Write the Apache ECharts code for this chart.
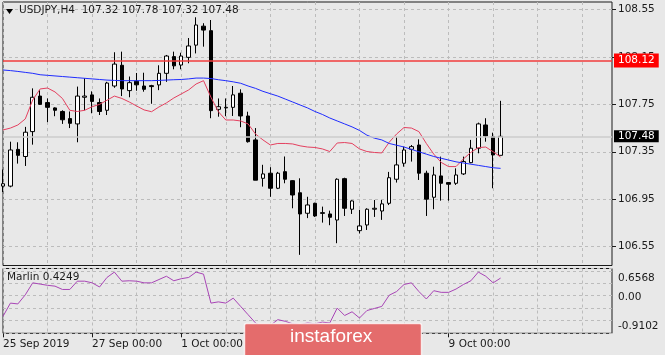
<!DOCTYPE html>
<html>
<head>
<meta charset="utf-8">
<script src="https://cdn.jsdelivr.net/npm/echarts@6/dist/echarts.min.js"></script>
<style>
  html, body { margin: 0; padding: 0; background: #e8e8e8; }
  #chart { width: 665px; height: 355px; }
</style>
</head>
<body>
<div id="chart"></div>
<script>
// USDJPY H4 bars
const symbolName = 'USDJPY,H4'
const indicatorName = 'Marlin'
const tickLabels = ['25 Sep 2019', '27 Sep 00:00', '1 Oct 00:00', '3 Oct 00:00', '7 Oct 00:00', '9 Oct 00:00']

const opens = [107.06, 107.06, 107.37, 107.31, 107.52, 107.82, 107.765, 107.72, 107.69, 107.63,
  107.585, 107.81, 107.83, 107.765, 107.70, 107.905, 108.08, 107.866, 107.945, 107.905,
  107.908, 107.914, 108.012, 108.153, 108.082, 108.147, 108.25, 108.41, 108.372, 107.708,
  107.72, 107.725, 107.844, 107.652, 107.45, 107.126, 107.169, 107.042, 107.182, 107.106,
  107.004, 106.831, 106.915, 106.836, 106.825, 106.774, 107.123, 106.865, 106.684, 106.732,
  106.865, 106.85, 106.915, 107.118, 107.253, 107.371, 107.407, 107.169, 106.966, 107.146,
  107.09, 107.084, 107.163, 107.258, 107.38, 107.576, 107.477, 107.32]
const closes = [107.08, 107.365, 107.32, 107.515, 107.81, 107.75, 107.725, 107.70, 107.62, 107.59,
  107.82, 107.82, 107.775, 107.69, 107.93, 108.09, 107.88, 107.933, 107.915, 107.877,
  107.90, 108.012, 108.158, 108.075, 108.158, 108.243, 108.42, 108.377, 107.697, 107.73,
  107.725, 107.83, 107.652, 107.435, 107.11, 107.163, 107.042, 107.169, 107.118, 106.985,
  106.825, 106.901, 106.808, 106.83, 106.797, 107.118, 106.873, 106.935, 106.724, 106.865,
  106.873, 106.91, 107.131, 107.239, 107.365, 107.393, 107.169, 106.95, 107.154, 107.084,
  107.076, 107.154, 107.267, 107.38, 107.585, 107.483, 107.323, 107.48]
const lows = [107.01, 107.05, 107.25, 107.23, 107.41, 107.745, 107.60, 107.65, 107.585, 107.55,
  107.43, 107.70, 107.675, 107.66, 107.66, 107.89, 107.82, 107.81, 107.865, 107.857,
  107.755, 107.87, 107.94, 108.046, 108.046, 108.097, 108.18, 108.237, 107.633, 107.646,
  107.65, 107.652, 107.557, 107.427, 107.11, 107.056, 106.97, 107.035, 107.084, 106.873,
  106.48, 106.79, 106.80, 106.752, 106.73, 106.578, 106.808, 106.825, 106.66, 106.69,
  106.80, 106.775, 106.90, 107.09, 107.224, 107.267, 107.112, 106.808, 106.865, 106.937,
  106.937, 107.07, 107.154, 107.253, 107.337, 107.435, 107.042, 107.32]
const highs = [107.20, 107.435, 107.43, 107.56, 107.885, 107.87, 107.80, 107.725, 107.70, 107.69,
  107.90, 107.97, 107.86, 107.80, 107.94, 108.19, 108.195, 107.985, 108.015, 108.017,
  107.915, 108.08, 108.167, 108.195, 108.186, 108.31, 108.485, 108.435, 108.462, 107.80,
  107.80, 107.905, 107.877, 107.688, 107.55, 107.24, 107.22, 107.18, 107.31, 107.11,
  107.126, 106.97, 106.92, 106.887, 106.853, 107.126, 107.131, 106.94, 106.86, 106.873,
  106.943, 106.943, 107.18, 107.477, 107.393, 107.407, 107.455, 107.19, 107.224, 107.309,
  107.093, 107.21, 107.309, 107.45, 107.596, 107.633, 107.511, 107.78]

// short moving average (red) and long one (blue)
const redMa = [107.534, 107.55, 107.576, 107.627, 107.787, 107.88, 107.888, 107.855, 107.80, 107.70,
  107.69, 107.70, 107.73, 107.75, 107.785, 107.82, 107.80, 107.77, 107.736, 107.703,
  107.688, 107.728, 107.762, 107.804, 107.838, 107.872, 107.922, 107.95, 107.81, 107.688,
  107.618, 107.618, 107.61, 107.585, 107.50, 107.45, 107.407, 107.42, 107.42, 107.416,
  107.40, 107.39, 107.386, 107.374, 107.352, 107.424, 107.428, 107.42, 107.374, 107.352,
  107.344, 107.34, 107.43, 107.50, 107.555, 107.55, 107.52, 107.42, 107.33, 107.26,
  107.225, 107.225, 107.29, 107.345, 107.385, 107.39, 107.35, 107.305]
const blueMa = [108.04, 108.035, 108.028, 108.02, 108.012, 108.0, 107.995, 107.99, 107.985, 107.98,
  107.975, 107.97, 107.965, 107.96, 107.955, 107.952, 107.95, 107.95, 107.95, 107.95,
  107.95, 107.952, 107.955, 107.958, 107.96, 107.965, 107.972, 107.972, 107.968, 107.958,
  107.95, 107.94, 107.928, 107.905, 107.885, 107.86, 107.84, 107.82, 107.795, 107.77,
  107.745, 107.72, 107.69, 107.665, 107.635, 107.61, 107.585, 107.56, 107.53, 107.49,
  107.465, 107.45, 107.42, 107.405, 107.39, 107.37, 107.35, 107.33, 107.31, 107.295,
  107.28, 107.265, 107.255, 107.245, 107.235, 107.225, 107.215, 107.21]

const marlin = [-0.50, -0.18, -0.20, 0.02, 0.31, 0.28, 0.25, 0.23, 0.15, 0.15,
  0.35, 0.35, 0.31, 0.21, 0.44, 0.57, 0.35, 0.36, 0.35, 0.31,
  0.31, 0.39, 0.47, 0.36, 0.41, 0.44, 0.57, 0.52, -0.18, -0.15,
  -0.18, -0.06, -0.26, -0.46, -0.66, -0.76, -0.72, -0.58, -0.62, -0.68,
  -0.70, -0.66, -0.68, -0.64, -0.66, -0.30, -0.48, -0.39, -0.54, -0.36,
  -0.31, -0.26, 0.01, 0.10, 0.27, 0.31, 0.10, -0.08, 0.12, 0.08,
  0.08, 0.16, 0.27, 0.36, 0.57, 0.47, 0.31, 0.4249]

const levelPrice = 108.12
const priceTicks = [106.55, 106.95, 107.35, 107.75, 108.15, 108.55]
const marlinTicks = [-0.9102, 0, 0.6568]

const SLOTS = 83   // bars visible in the window incl. empty space on the right
const categories = Array.from({ length: SLOTS }, (_, i) => String(i))
const last = opens.length - 1
const font = 'DejaVu Sans'

const chart = echarts.init(document.getElementById('chart'))

const dash = { color: '#bcbcbc', type: [3, 3], width: 1 }
const every6 = (i) => i % 6 === 0
const labelAt = (i) => i % 12 === 0 && i / 12 < tickLabels.length

const option = {
  animation: false,
  backgroundColor: '#e8e8e8',
  textStyle: { fontFamily: font },
  grid: [
    { left: 3, top: 2, width: 609, height: 263.5, show: true, borderColor: '#1a1a1a', borderWidth: 1, backgroundColor: 'transparent' },
    { left: 3, top: 268.5, width: 609, height: 64.8, show: true, borderColor: '#1a1a1a', borderWidth: 1, backgroundColor: 'transparent' }
  ],
  xAxis: [
    {
      type: 'category', gridIndex: 0, data: categories, boundaryGap: false,
      axisLine: { show: false, onZero: false }, axisTick: { show: false }, axisLabel: { show: false },
      splitLine: { show: true, interval: every6, lineStyle: dash }
    },
    {
      type: 'category', gridIndex: 1, data: categories, boundaryGap: false, position: 'bottom',
      axisLine: { show: false, onZero: false },
      axisTick: { show: true, interval: labelAt, length: 4, lineStyle: { color: '#1a1a1a' } },
      axisLabel: {
        show: true, interval: labelAt, align: 'left', margin: 5,
        color: '#1a1a1a', fontSize: 10.5, fontFamily: font,
        formatter: (v, i) => tickLabels[i / 12] || ''
      },
      splitLine: { show: true, interval: every6, lineStyle: dash }
    }
  ],
  yAxis: [
    {
      type: 'value', gridIndex: 0, position: 'right', min: 106.39, max: 108.614, scale: true,
      axisLine: { show: false },
      axisTick: { show: true, customValues: priceTicks, length: 4, lineStyle: { color: '#1a1a1a' } },
      axisLabel: {
        customValues: priceTicks, margin: 6, color: '#1a1a1a', fontSize: 10.5, fontFamily: font,
        formatter: (v) => v.toFixed(2)
      },
      splitLine: { show: true, lineStyle: dash }
    },
    {
      type: 'value', gridIndex: 1, position: 'right', min: marlinTicks[0], max: marlinTicks[2],
      axisLine: { show: false },
      axisTick: { show: false },
      axisLabel: {
        customValues: marlinTicks, margin: 6, color: '#1a1a1a', fontSize: 10.5, fontFamily: font,
        formatter: (v) => {
          if (v > 0.1) return '{t|' + v.toFixed(4) + '}'
          if (v < -0.1) return '{b|' + v.toFixed(4) + '}'
          return '{m|0.00}'
        },
        rich: {
          t: { padding: [19, 0, 0, 0], fontSize: 10.5, fontFamily: font, color: '#1a1a1a' },
          m: { padding: [4, 0, 0, 0], fontSize: 10.5, fontFamily: font, color: '#1a1a1a' },
          b: { padding: [0, 0, 14, 0], fontSize: 10.5, fontFamily: font, color: '#1a1a1a' }
        }
      },
      splitLine: { show: true, lineStyle: dash }
    }
  ],
  series: [
    {
      type: 'candlestick', xAxisIndex: 0, yAxisIndex: 0, barWidth: 4,
      data: opens.map((o, i) => [o, closes[i], lows[i], highs[i]]),
      itemStyle: { color: '#ffffff', color0: '#000000', borderColor: '#000000', borderColor0: '#000000', borderWidth: 1 },
      markLine: {
        silent: true, symbol: 'none', animation: false,
        data: [
          {
            yAxis: closes[last],
            lineStyle: { color: '#cdcdcd', width: 1.5, type: 'solid' },
            label: {
              position: 'end', distance: 2, formatter: closes[last].toFixed(2),
              backgroundColor: '#000', color: '#fff', padding: [1, 4, 0, 4],
              fontSize: 10.5, fontFamily: font
            }
          },
          {
            yAxis: levelPrice,
            lineStyle: { color: '#f23c3c', width: 1.5, type: 'solid' },
            label: {
              position: 'end', distance: 2, formatter: levelPrice.toFixed(2),
              backgroundColor: '#ff0000', color: '#fff', padding: [2, 4, 1, 4],
              fontSize: 10.5, fontFamily: font
            }
          }
        ]
      },
      z: 2
    },
    {
      type: 'line', xAxisIndex: 0, yAxisIndex: 0, data: redMa, symbol: 'none',
      lineStyle: { color: '#e4405f', width: 1 }, z: 3
    },
    {
      type: 'line', xAxisIndex: 0, yAxisIndex: 0, data: blueMa, symbol: 'none',
      lineStyle: { color: '#1f2cff', width: 1 }, z: 3
    },
    {
      type: 'line', xAxisIndex: 1, yAxisIndex: 1, data: marlin, symbol: 'none',
      lineStyle: { color: '#a845b6', width: 1 }, z: 3
    }
  ],
  graphic: [
    { type: 'polygon', shape: { points: [[6, 9], [13, 9], [9.5, 14]] }, style: { fill: '#000' }, z: 50 },
    {
      type: 'text', left: 19, top: 5, z: 50,
      style: {
        text: symbolName + '  ' + [opens[last], highs[last], lows[last], closes[last]].map(v => v.toFixed(2)).join(' '),
        fill: '#1a1a1a', font: '10.5px "DejaVu Sans"'
      }
    },
    {
      type: 'text', left: 7, top: 272, z: 50,
      style: { text: indicatorName + ' ' + marlin[last].toFixed(4), fill: '#1a1a1a', font: '10.5px "DejaVu Sans"' }
    },
    {
      type: 'rect', z: 100,
      shape: { x: 244.5, y: 323.5, width: 177, height: 40, r: 2 },
      style: { fill: '#e46c6c', stroke: 'rgba(255,255,255,0.75)', lineWidth: 1.5 }
    },
    {
      type: 'text', left: 290, top: 327, z: 101,
      style: { text: 'instaforex', fill: '#ffffff', font: '19px "Liberation Sans"' }
    }
  ]
}

chart.setOption(option)
</script>
</body>
</html>
